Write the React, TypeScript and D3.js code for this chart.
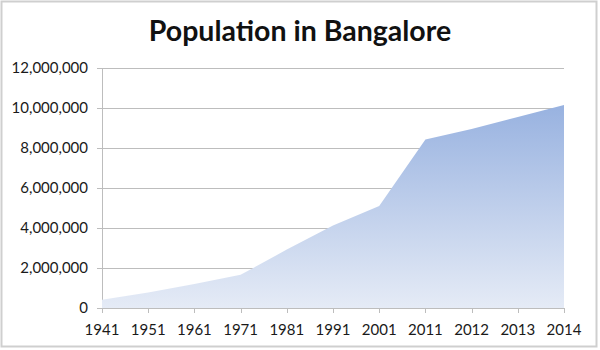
import React from 'react'
import * as d3 from 'd3'

const years = ['1941', '1951', '1961', '1971', '1981', '1991', '2001', '2011', '2012', '2013', '2014']
const population = [410000, 780000, 1200000, 1660000, 2920000, 4130000, 5100000, 8430000, 8950000, 9550000, 10150000]
const yTicks = [0, 2000000, 4000000, 6000000, 8000000, 10000000, 12000000]

const width = 600
const height = 350
const margin = { top: 68, right: 36, bottom: 42, left: 102 }
const font = 'Lato, "Open Sans", sans-serif'

export default function App() {
  const x = d3.scalePoint().domain(years).range([margin.left, width - margin.right])
  const y = d3.scaleLinear().domain([0, 12000000]).range([height - margin.bottom, margin.top])
  const fmt = d3.format(',')

  const data = years.map((yr, i) => ({ yr, v: population[i] }))
  const area = d3.area<{ yr: string, v: number }>()
    .x(d => x(d.yr) as number)
    .y0(y(0))
    .y1(d => y(d.v))

  const x0 = margin.left
  const x1 = width - margin.right

  return (
    <div style={{ position: 'absolute', left: 0, top: 0 }}>
      <svg width={width} height={height} style={{ display: 'block', background: '#fff' }}>
        <defs>
          <linearGradient id="fillGrad" x1="0" y1={y(d3.max(population) as number)} x2="0" y2={y(0)} gradientUnits="userSpaceOnUse">
            <stop offset="0" stopColor="#98b2e0" />
            <stop offset="1" stopColor="#e5ebf6" />
          </linearGradient>
        </defs>
        <rect x={1.5} y={1.5} width={595} height={345} fill="#fff" stroke="#cfcfcf" strokeWidth={2} />

        <text x={300} y={41} textAnchor="middle" fontFamily={font} fontWeight="bold" fontSize={28.5} fill="#111">
          Population in Bangalore
        </text>

        {yTicks.map(t => (
          <g key={t}>
            <line x1={x0 - 5} x2={x1} y1={Math.round(y(t)) + 0.5} y2={Math.round(y(t)) + 0.5} stroke="#bdbdbd" />
            <text x={88} y={y(t)} dy="0.35em" textAnchor="end" fontFamily={font} fontSize={15} fill="#1a1a1a">
              {fmt(t)}
            </text>
          </g>
        ))}
        <line x1={x0 + 0.5} x2={x0 + 0.5} y1={margin.top} y2={y(0)} stroke="#bdbdbd" />

        <path d={area(data) as string} fill="url(#fillGrad)" />

        <line x1={x0} x2={x1} y1={Math.round(y(0)) + 0.5} y2={Math.round(y(0)) + 0.5} stroke="#bdbdbd" />
        {years.map(yr => (
          <g key={yr}>
            <line x1={Math.round(x(yr) as number) + 0.5} x2={Math.round(x(yr) as number) + 0.5} y1={y(0)} y2={y(0) + 5} stroke="#bdbdbd" />
            <text x={x(yr)} y={335} textAnchor="middle" fontFamily={font} fontSize={15} fill="#1a1a1a">
              {yr}
            </text>
          </g>
        ))}
      </svg>
    </div>
  )
}
